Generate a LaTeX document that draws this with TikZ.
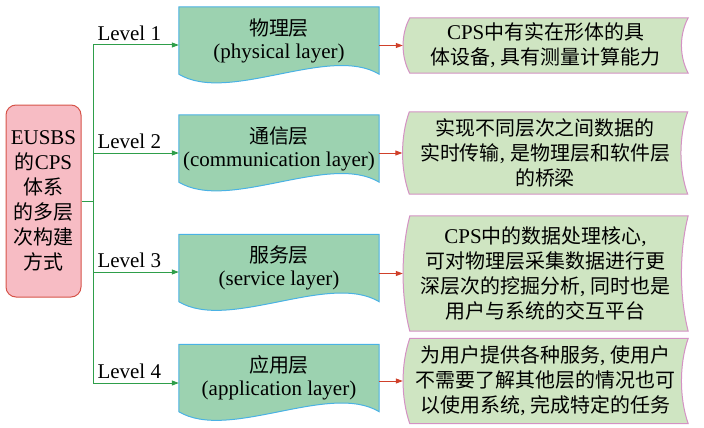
\documentclass[tikz,border=0pt]{standalone}
\usepackage{fontspec}
\setmainfont{Liberation Serif}
\newfontfamily\cjk[Scale=0.95]{Noto Sans CJK SC}
\usetikzlibrary{arrows.meta,backgrounds,calc}
\definecolor{rootfill}{RGB}{247,188,196}
\definecolor{rootline}{RGB}{214,84,74}
\definecolor{layerfill}{RGB}{156,210,176}
\definecolor{layerline}{RGB}{74,178,228}
\definecolor{descfill}{RGB}{207,229,194}
\definecolor{descline}{RGB}{212,146,196}
\definecolor{branchgreen}{RGB}{46,158,74}
\definecolor{linkred}{RGB}{208,64,42}
\newcommand{\zh}[1]{{\cjk #1}}
% document shape behind a layer node
\newcommand{\docshape}[1]{%
  \draw[layershape] (#1.north west) -- (#1.north east) -- (#1.south east)
    .. controls +(-50,-30) and +(50,30) .. (#1.south west) -- cycle;}
% stored data shape behind a text node
\newcommand{\storeshape}[1]{%
  \draw[descshape] ([xshift=7pt]#1.north west) -- (#1.north east)
    .. controls ($(#1.north east)!0.3!(#1.south east)+(-9,0)$)
       and ($(#1.north east)!0.7!(#1.south east)+(-9,0)$) .. (#1.south east)
    -- ([xshift=7pt]#1.south west)
    .. controls ($(#1.north west)!0.7!(#1.south west)+(-2,0)$)
       and ($(#1.north west)!0.3!(#1.south west)+(-2,0)$) .. ([xshift=7pt]#1.north west)
    -- cycle;}
\tikzset{
  rootbox/.style={draw=rootline, fill=rootfill, line width=1pt, rounded corners=10pt,
    minimum width=75pt, minimum height=192pt, align=center, inner sep=0pt},
  layerbox/.style={minimum width=200pt, minimum height=67pt, align=center, inner sep=0pt,
    font=\fontsize{21}{23}\selectfont},
  layershape/.style={draw=layerline, fill=layerfill, line width=1pt},
  textbox/.style={minimum width=285pt, align=center, inner sep=0pt},
  descshape/.style={draw=descline, fill=descfill, line width=1pt},
  trunkline/.style={draw=branchgreen, line width=1pt},
  linkarrow/.style={draw=linkred, line width=1pt, ->},
}
\begin{document}
\begin{tikzpicture}[x=1pt, y=-1pt, >={Triangle[length=7pt,width=5pt]},
    every node/.style={font=\fontsize{21}{25}\selectfont}]
\useasboundingbox (0,0) rectangle (704,428);
% root
\node[rootbox] (root) at (43.5,201) {EUSBS\\\zh{的}CPS\\\zh{体系}\\\zh{的多层}\\\zh{次构建}\\\zh{方式}};
% layers
\node[layerbox] (phy) at (279,40.5) {\zh{物理层}\\(physical layer)};
\node[layerbox] (com) at (279,148.5) {\zh{通信层}\\(communication layer)};
\node[layerbox] (ser) at (279,268) {\zh{服务层}\\(service layer)};
\node[layerbox] (app) at (279,378) {\zh{应用层}\\(application layer)};
% descriptions
\node[textbox, minimum height=55pt] (dphy) at (545.5,45.5)
  {CPS\zh{中有实在形体的具}\\\zh{体设备}, \zh{具有测量计算能力}};
\node[textbox, minimum height=82pt] (dcom) at (545,153)
  {\zh{实现不同层次之间数据的}\\\zh{实时传输}, \zh{是物理层和软件层}\\\zh{的桥梁}};
\node[textbox, minimum height=115pt] (dser) at (545.5,273.5)
  {CPS\zh{中的数据处理核心},\\\zh{可对物理层采集数据进行更}\\\zh{深层次的挖掘分析}, \zh{同时也是}\\\zh{用户与系统的交互平台}};
\node[textbox, minimum height=85pt] (dapp) at (545.5,381)
  {\zh{为用户提供各种服务}, \zh{使用户}\\\zh{不需要了解其他层的情况也可}\\\zh{以使用系统}, \zh{完成特定的任务}};
\begin{scope}[on background layer]
  \docshape{phy} \docshape{com} \docshape{ser} \docshape{app}
  \storeshape{dphy} \storeshape{dcom} \storeshape{dser} \storeshape{dapp}
\end{scope}
% trunk and levels
\coordinate (l1) at (93,45);
\coordinate (l2) at (93,153);
\coordinate (l3) at (93,272);
\coordinate (l4) at (93,383);
\draw[trunkline] (root.east) -- (root.east -| l1);
\draw[trunkline] (l1) -- (l4);
\foreach \c/\n/\i in {l1/phy/1, l2/com/2, l3/ser/3, l4/app/4}
  \draw[trunkline, ->] (\c) -- (\c -| \n.west) node[pos=0, above right, inner sep=4pt] {Level \i};
% links to descriptions
\foreach \n/\d in {phy/dphy, com/dcom, ser/dser, app/dapp}
  \draw[linkarrow] (\d.west -| \n.east) -- (\d.west);
\end{tikzpicture}
\end{document}
